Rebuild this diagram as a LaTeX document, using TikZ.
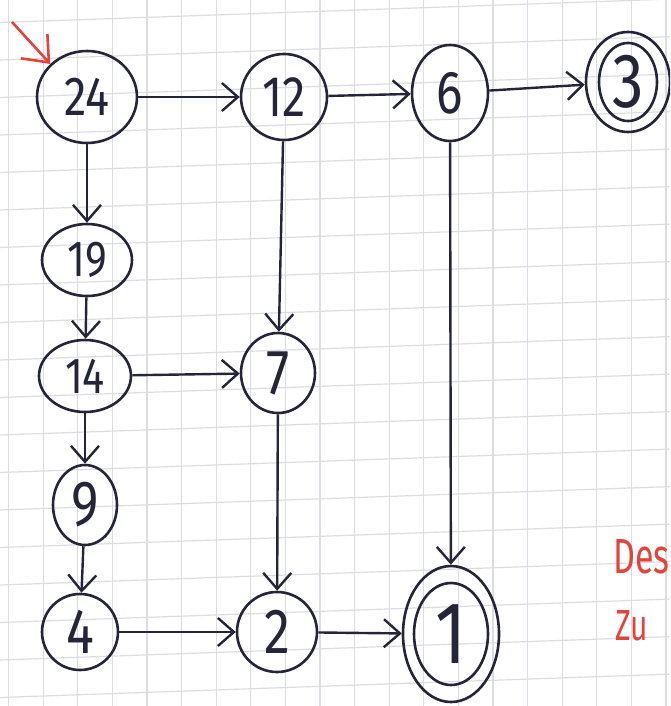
\documentclass[tikz,border=0pt]{standalone}
\usepackage{fontspec}
\usepackage{graphicx}
\setmainfont{Fira Sans}
\usetikzlibrary{shapes.geometric,arrows.meta}
\definecolor{ink}{HTML}{25253A}
\definecolor{gridline}{HTML}{DCDCE4}
\definecolor{marker}{HTML}{E5433A}
\tikzset{
  state/.style={ellipse, draw=ink, line width=2.6pt, inner sep=0pt, text=ink},
  inner ring/.style={draw=ink, line width=2.6pt},
  arc/.style={draw=ink, line width=2.4pt,
    -{Straight Barb[length=16pt,width=28pt,line width=2.4pt]}},
  startarc/.style={draw=marker, line width=2.6pt,
    -{Straight Barb[length=22pt,width=36pt,line width=2.6pt]}},
  note/.style={text=marker, anchor=base west, inner sep=0pt},
}
% digits set narrow and tall, like handwriting
\newcommand\hw[2]{{\fontsize{#1}{#1}\selectfont\scalebox{0.9}[1.1]{#2}}}
\begin{document}
\begin{tikzpicture}[x=1pt,y=-1pt]
\useasboundingbox (0,0) rectangle (670,706);
\clip (0,0) rectangle (670,706);
\fill[white] (0,0) rectangle (670,706);
% squared paper
\foreach \k in {0,...,19}
  \draw[gridline, line width=1.2pt] ({8.6+34.6*\k},0) -- ({8.6+34.6*\k},706);
\foreach \k in {-1,...,19}
  \draw[gridline, line width=1.2pt] (0,{22.5+37.5*\k}) -- (670,{-0.9+37.5*\k});

% states
\node[state, minimum width=100pt, minimum height=92pt] (n24) at (87,97) {\hw{50}{24}};
\node[state, minimum width=86pt, minimum height=86pt] (n12) at (284,97) {\hw{52}{12}};
\node[state, minimum width=76pt, minimum height=96pt] (n6) at (450,93) {\hw{55}{6}};
\node[state, minimum width=84pt, minimum height=100pt] (n3) at (628,82) {\hw{70}{3}};
\draw[inner ring] (n3.center) ellipse [x radius=29, y radius=39];
\node[state, minimum width=90pt, minimum height=72pt] (n19) at (87,260) {\hw{46}{19}};
\node[state, minimum width=92pt, minimum height=72pt] (n14) at (85,376) {\hw{46}{14}};
\node[state, minimum width=74pt, minimum height=80pt] (n7) at (278,373) {\hw{58}{7}};
\node[state, minimum width=64pt, minimum height=80pt] (n9) at (85,505) {\hw{58}{9}};
\node[state, minimum width=76pt, minimum height=76pt] (n4) at (80,632) {\hw{58}{4}};
\node[state, minimum width=80pt, minimum height=80pt] (n2) at (277,632) {\hw{58}{2}};
\node[state, minimum width=96pt, minimum height=136pt] (n1) at (451,634) {\hw{80}{1}};
\draw[inner ring] (n1.center) ellipse [x radius=37, y radius=51];

% transitions
\draw[arc] (n24) -- (n12);
\draw[arc] (n12) -- (n6);
\draw[arc] (n6) -- (n3);
\draw[arc] (n24) -- (n19);
\draw[arc] (n19) -- (n14);
\draw[arc] (n14) -- (n7);
\draw[arc] (n14) -- (n9);
\draw[arc] (n9) -- (n4);
\draw[arc] (n4) -- (n2);
\draw[arc] (n2) -- (n1);
\draw[arc] (n12) -- (n7);
\draw[arc] (n7) -- (n2);
\draw[arc] (n6) -- (n1);

% start marker
\coordinate (start) at (12,22);
\draw[startarc] (start) -- (n24.138);

% margin notes
\node[note, font=\fontsize{34}{34}\selectfont] (des) at (613,573) {\scalebox{1}[1.45]{Des}};
\node[note, font=\fontsize{30}{30}\selectfont] (zu) at (615,640) {\scalebox{1}[1.45]{Zu}};
\end{tikzpicture}
\end{document}
